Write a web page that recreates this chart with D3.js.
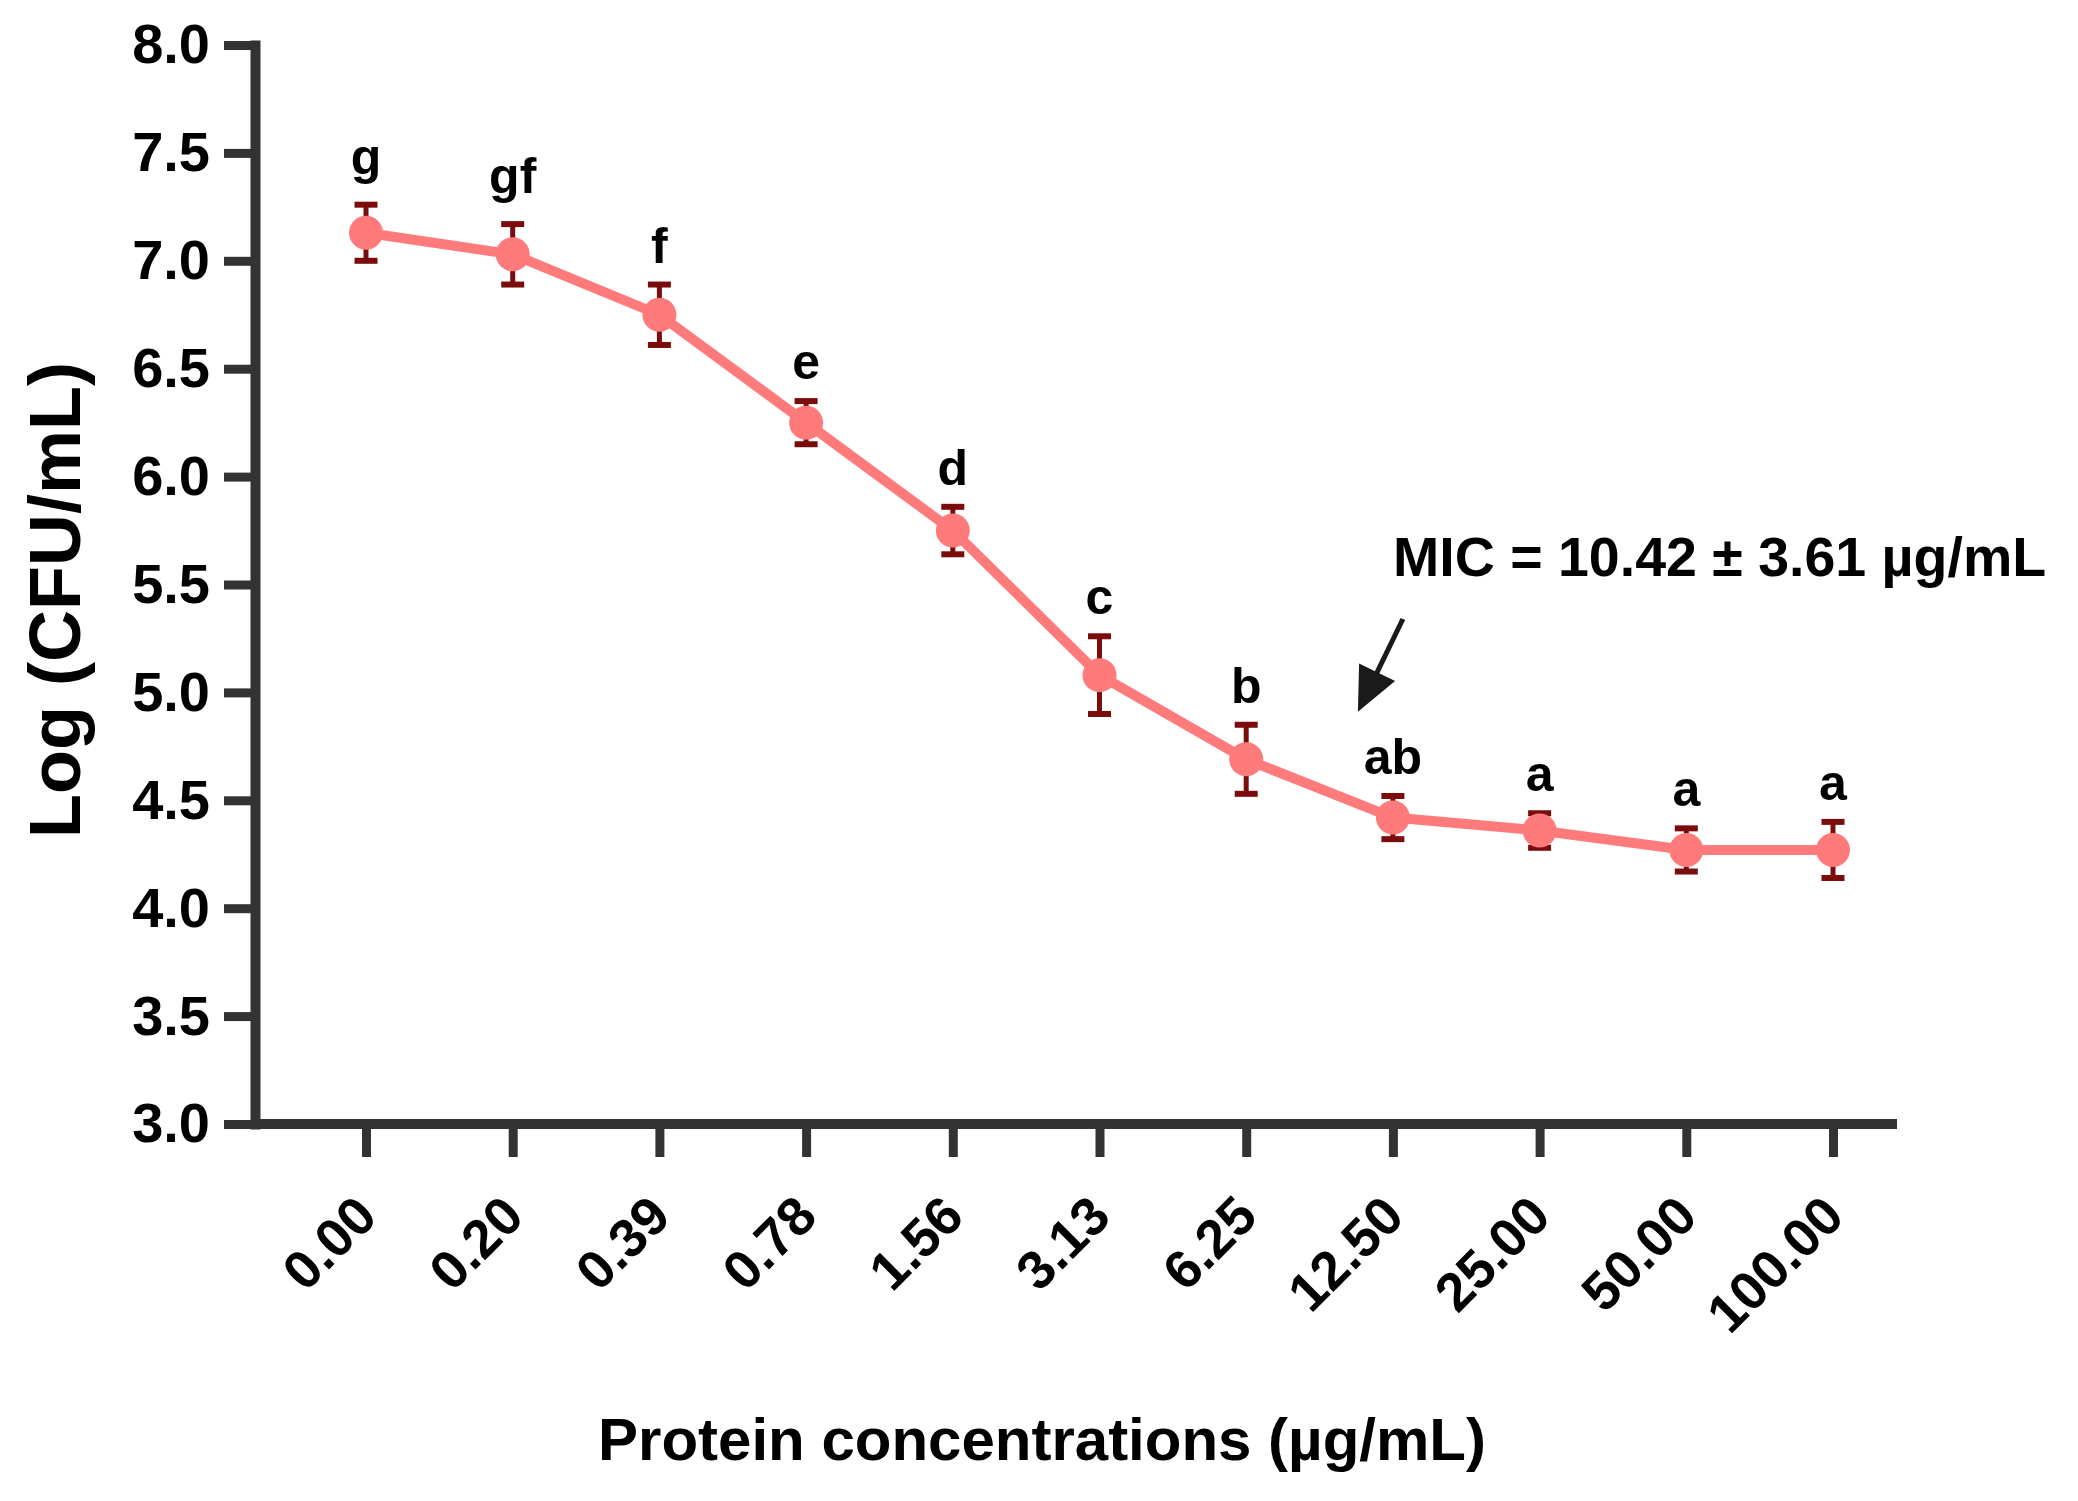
<!DOCTYPE html>
<html>
<head>
<meta charset="utf-8">
<script src="https://cdn.jsdelivr.net/npm/d3@7"></script>
<style>
  body { margin: 0; background: #ffffff; }
  svg { display: block; }
</style>
</head>
<body>
<svg id="chart" width="2078" height="1501"></svg>
<script>
// ---------- DATA ----------
const categories = ["0.00", "0.20", "0.39", "0.78", "1.56", "3.13", "6.25", "12.50", "25.00", "50.00", "100.00"];
const means = [7.13, 7.03, 6.75, 6.25, 5.75, 5.08, 4.69, 4.42, 4.36, 4.27, 4.27];
const sds = [0.13, 0.14, 0.14, 0.10, 0.11, 0.18, 0.16, 0.10, 0.08, 0.10, 0.13];
const letters = ["g", "gf", "f", "e", "d", "c", "b", "ab", "a", "a", "a"];
const yTicks = [3.0, 3.5, 4.0, 4.5, 5.0, 5.5, 6.0, 6.5, 7.0, 7.5, 8.0];
const xTitle = "Protein concentrations (µg/mL)";
const yTitle = "Log (CFU/mL)";
const micText = "MIC = 10.42 ± 3.61 µg/mL";
const micCategory = "12.50";

// ---------- LAYOUT ----------
const FONT = "'Liberation Sans', Arial, Helvetica, sans-serif";
const axisColor = "#333333";
const lineColor = "#ff7b7b";
const errColor = "#7a0c0c";
const axisLeftX = 255, axisRightX = 1897;
const plotTop = 45, plotBottom = 1124;

const svg = d3.select("#chart");
svg.append("rect").attr("width", 2078).attr("height", 1501).attr("fill", "#fff");

const x = d3.scalePoint().domain(categories).range([366, 1833]);
const y = d3.scaleLinear().domain([3, 8]).range([plotBottom, plotTop]);

// ---------- Y AXIS ----------
const gy = svg.append("g").attr("transform", `translate(${axisLeftX},0)`)
  .call(d3.axisLeft(y).tickValues(yTicks).tickFormat(d3.format(".1f"))
        .tickSize(31).tickSizeOuter(0).tickPadding(14));
gy.select(".domain").attr("stroke", axisColor).attr("stroke-width", 10)
  .attr("stroke-linecap", "square");
gy.selectAll(".tick line").attr("stroke", axisColor).attr("stroke-width", 9);
gy.selectAll(".tick text").attr("fill", "#000").attr("font-family", FONT)
  .attr("font-weight", "bold").attr("font-size", 56);

// ---------- X AXIS ----------
const gx = svg.append("g").attr("transform", `translate(0,${y(3)})`)
  .call(d3.axisBottom(x).tickSize(33).tickSizeOuter(0));
gx.select(".domain").remove();
gx.insert("line", ":first-child")
  .attr("x1", axisLeftX).attr("x2", axisRightX).attr("y1", 0).attr("y2", 0)
  .attr("stroke", axisColor).attr("stroke-width", 10);
gx.selectAll(".tick line").attr("stroke", axisColor).attr("stroke-width", 9);
gx.selectAll(".tick text")
  .attr("x", 0).attr("y", 0).attr("dy", 0)
  .attr("transform", "translate(13,95) rotate(-45)")
  .attr("text-anchor", "end")
  .attr("fill", "#000").attr("font-family", FONT)
  .attr("font-weight", "bold").attr("font-size", 54);

// ---------- AXIS TITLES ----------
svg.append("text")
  .attr("transform", `translate(80,600) rotate(-90)`)
  .attr("text-anchor", "middle")
  .attr("font-family", FONT).attr("font-weight", "bold").attr("font-size", 72)
  .attr("fill", "#000").text(yTitle);

svg.append("text")
  .attr("x", 1042).attr("y", 1460)
  .attr("text-anchor", "middle")
  .attr("font-family", FONT).attr("font-weight", "bold").attr("font-size", 60)
  .attr("fill", "#000").text(xTitle);

// ---------- DATA MARKS ----------
const data = categories.map((c, i) => ({ c, m: means[i], sd: sds[i], l: letters[i] }));

// error bars
const eb = svg.append("g").attr("stroke", errColor).attr("stroke-width", 5);
data.forEach(d => {
  const cx = x(d.c), yt = y(d.m + d.sd), yb = y(d.m - d.sd);
  eb.append("line").attr("x1", cx).attr("x2", cx).attr("y1", yt).attr("y2", yb);
  eb.append("line").attr("x1", cx - 11.5).attr("x2", cx + 11.5).attr("y1", yt).attr("y2", yt).attr("stroke-width", 6);
  eb.append("line").attr("x1", cx - 11.5).attr("x2", cx + 11.5).attr("y1", yb).attr("y2", yb).attr("stroke-width", 6);
});

// connecting line
svg.append("path")
  .datum(data)
  .attr("fill", "none")
  .attr("stroke", lineColor)
  .attr("stroke-width", 10)
  .attr("stroke-linejoin", "round")
  .attr("d", d3.line().x(d => x(d.c)).y(d => y(d.m)));

// markers
svg.append("g").selectAll("circle").data(data).join("circle")
  .attr("cx", d => x(d.c)).attr("cy", d => y(d.m)).attr("r", 17)
  .attr("fill", lineColor);

// significance letters
svg.append("g").selectAll("text").data(data).join("text")
  .attr("x", d => x(d.c))
  .attr("y", d => y(d.m + d.sd) - 22 - (/[gjpqy]/.test(d.l) ? 9 : 0))
  .attr("text-anchor", "middle")
  .attr("font-family", FONT).attr("font-weight", "bold").attr("font-size", 50)
  .attr("fill", "#000")
  .text(d => d.l);

// ---------- MIC ANNOTATION ----------
svg.append("text")
  .attr("x", 1393).attr("y", 576)
  .attr("font-family", FONT).attr("font-weight", "bold").attr("font-size", 55.5)
  .attr("fill", "#000").text(micText);

const tail = [x(micCategory) + 10, y(5.34)];
const tip = [x(micCategory) - 35, y(4.91)];
const dx = tip[0] - tail[0], dy = tip[1] - tail[1];
const len = Math.hypot(dx, dy);
const ux = dx / len, uy = dy / len;
const headLen = 44, headHalf = 20;
const base = [tip[0] - ux * headLen, tip[1] - uy * headLen];
svg.append("line")
  .attr("x1", tail[0]).attr("y1", tail[1])
  .attr("x2", base[0] + ux * 4).attr("y2", base[1] + uy * 4)
  .attr("stroke", "#1a1a1a").attr("stroke-width", 5);
svg.append("path")
  .attr("d", `M${tip[0]},${tip[1]} L${base[0] - uy * headHalf},${base[1] + ux * headHalf} L${base[0] + uy * headHalf},${base[1] - ux * headHalf} Z`)
  .attr("fill", "#1a1a1a");
</script>
</body>
</html>
